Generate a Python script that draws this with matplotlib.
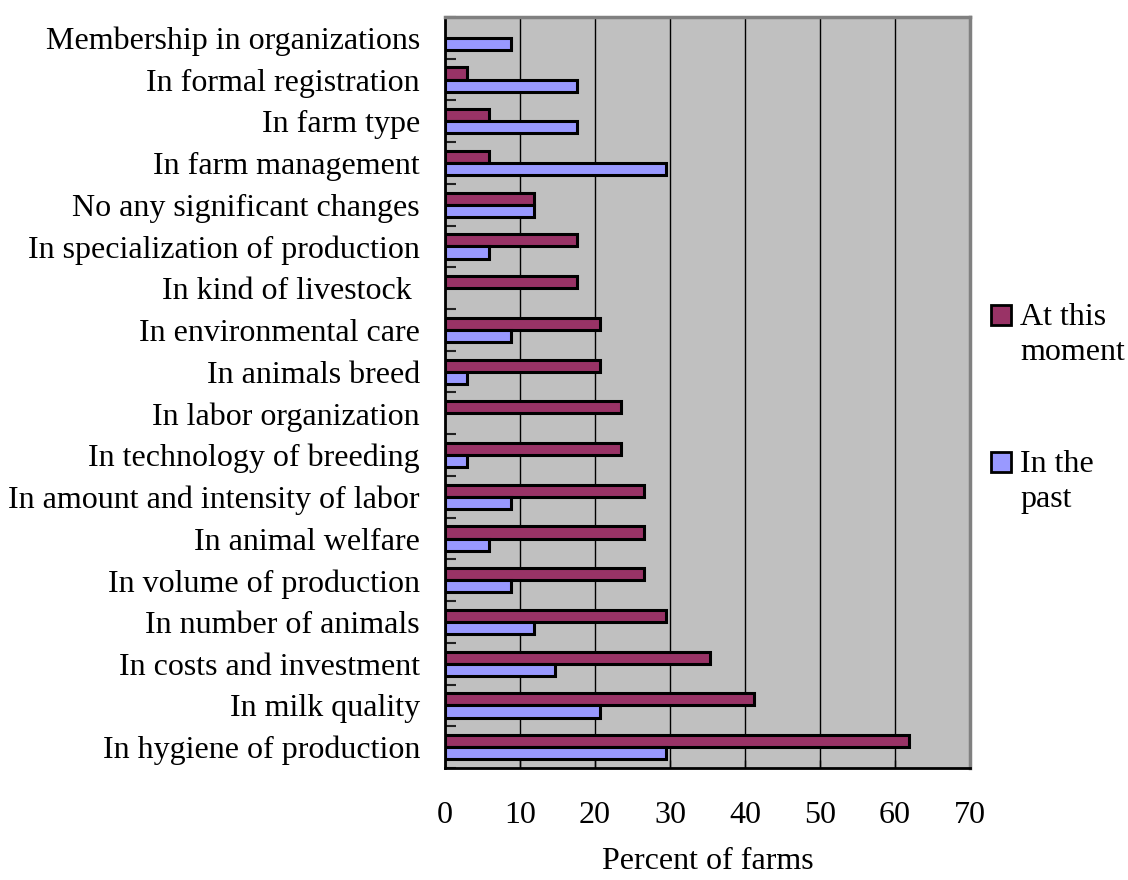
import matplotlib
matplotlib.use("Agg")
import matplotlib.pyplot as plt
import numpy as np
from matplotlib.patches import Rectangle

# categories listed top to bottom as in the chart
categories = [
    "Membership in organizations",
    "In formal registration",
    "In farm type",
    "In farm management",
    "No any significant changes",
    "In specialization of production",
    "In kind of livestock ",
    "In environmental care",
    "In animals breed",
    "In labor organization",
    "In technology of breeding",
    "In amount and intensity of labor",
    "In animal welfare",
    "In volume of production",
    "In number of animals",
    "In costs and investment",
    "In milk quality",
    "In hygiene of production",
]
at_this_moment = [0, 2.9, 5.9, 5.9, 11.8, 17.6, 17.6, 20.6, 20.6, 23.5,
                  23.5, 26.5, 26.5, 26.5, 29.4, 35.3, 41.2, 61.8]
in_the_past = [8.8, 17.6, 17.6, 29.4, 11.8, 5.9, 0, 8.8, 2.9, 0,
               2.9, 8.8, 5.9, 8.8, 11.8, 14.7, 20.6, 29.4]
series_names = ["At this\nmoment", "In the\npast"]
colors = ["#993366", "#9999FF"]
xticks = [0, 10, 20, 30, 40, 50, 60, 70]

plt.rcParams['font.family'] = ['Liberation Serif', 'DejaVu Serif']
fs = 23

fig = plt.figure(figsize=(11.28, 8.8), dpi=100)
ax = fig.add_axes([445/1128, 1 - 768/880, (970 - 445)/1128, (768 - 17)/880])
ax.set_facecolor("#C0C0C0")

y = np.arange(len(categories))
h = 0.29
# zero values get no bar, as in the original
m = np.array(at_this_moment)
p = np.array(in_the_past)
ax.barh(y[m > 0] - h/2, m[m > 0], height=h, color=colors[0],
        edgecolor="black", linewidth=2.2, zorder=3)
ax.barh(y[p > 0] + h/2, p[p > 0], height=h, color=colors[1],
        edgecolor="black", linewidth=2.2, zorder=3)

ax.set_ylim(len(categories) - 0.5, -0.5)
ax.set_xlim(0, 70)
ax.set_yticks(y)
ax.set_yticklabels(categories, fontsize=fs)
ax.set_yticks(np.arange(-0.5, len(categories)), minor=True)
ax.tick_params(axis="y", which="major", length=0, pad=18)
ax.tick_params(axis="y", which="minor", direction="in", length=8,
               width=1.5, color="#222222")
ax.set_xticks(xticks)
ax.set_xticklabels([str(t) for t in xticks], fontsize=fs)
ax.tick_params(axis="x", direction="in", length=6, width=1, pad=24)
ax.xaxis.grid(True, color="black", linewidth=1.0, zorder=1)
ax.set_axisbelow(True)
ax.set_xlabel("Percent of farms", fontsize=fs, labelpad=12)

for s in ["left", "bottom"]:
    ax.spines[s].set_color("black")
    ax.spines[s].set_linewidth(2)
for s in ["top", "right"]:
    ax.spines[s].set_color("#808080")
    ax.spines[s].set_linewidth(2.5)

# legend drawn by hand so the box sits at the first text line
leg_y = [315, 462]
for name, col, yy in zip(series_names, colors, leg_y):
    fig.add_artist(Rectangle((991/1128, 1 - (yy + 10)/880), 20/1128, 20/880,
                             transform=fig.transFigure, facecolor=col,
                             edgecolor="black", linewidth=2))
    fig.text(1020/1128, 1 - (yy - 12)/880, name, fontsize=fs, va="top",
             ha="left", linespacing=1.25)

fig.savefig("out.png", dpi=100)
